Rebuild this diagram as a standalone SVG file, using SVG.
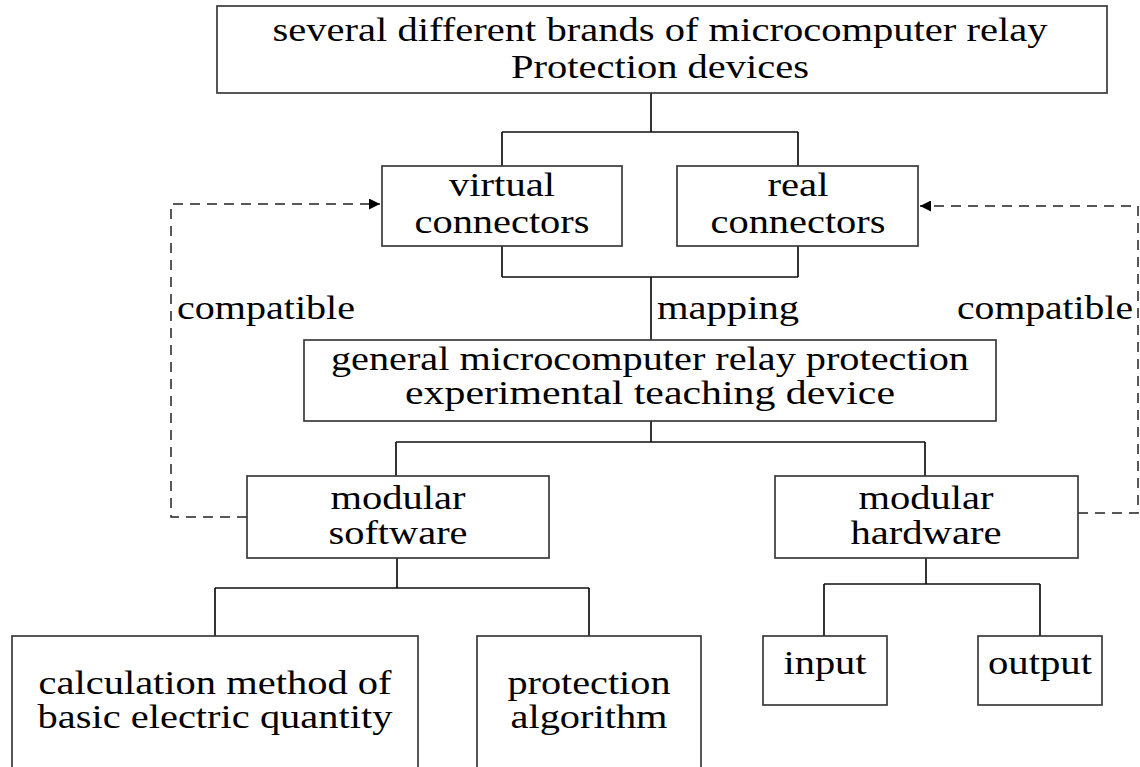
<svg xmlns="http://www.w3.org/2000/svg" width="1140" height="767" viewBox="0 0 1140 767">
<style>
.box{fill:#fff;stroke:#3a3a3a;stroke-width:1.7}
.t{font-family:"Liberation Serif","Times New Roman",Times,serif;font-size:33px;fill:#000;text-anchor:middle}
.c{fill:none;stroke:#111;stroke-width:1.7}
.d{fill:none;stroke:#222;stroke-width:1.5;stroke-dasharray:10 7}
</style>
<defs>
<marker id="ah" viewBox="0 0 10 10" refX="10" refY="5" markerWidth="13" markerHeight="11" markerUnits="userSpaceOnUse" orient="auto">
<path d="M0,0 L10,5 L0,10 Z" fill="#000"/>
</marker>
</defs>
<rect width="1140" height="767" fill="#fff"/>
<g id="connectors">
<path class="c" d="M651,93 V132 M502,132 H798 M502,132 V166 M798,132 V166"/>
<path class="c" d="M502,246 V277 M798,246 V277 M502,277 H798 M651,277 V340"/>
<path class="c" d="M651,421 V442 M396,442 H925 M396,442 V476 M925,442 V476"/>
<path class="c" d="M397,558 V588 M215,588 H589 M215,588 V636 M589,588 V636"/>
<path class="c" d="M926,558 V584 M824,584 H1040 M824,584 V636 M1040,584 V636"/>
<path class="d" d="M247,517 H171 V204 H380" marker-end="url(#ah)"/>
<path class="d" d="M1078,513 H1138 V206 H920" marker-end="url(#ah)"/>
<text class="t" x="266" y="319" textLength="178" lengthAdjust="spacingAndGlyphs">compatible</text>
<text class="t" x="728" y="319" textLength="142" lengthAdjust="spacingAndGlyphs">mapping</text>
<text class="t" x="1045" y="319" textLength="176" lengthAdjust="spacingAndGlyphs">compatible</text>
</g>
<g id="top">
<rect class="box" x="217" y="6" width="890" height="87"/>
<text class="t" x="660" y="41" textLength="775" lengthAdjust="spacingAndGlyphs">several different brands of microcomputer relay</text>
<text class="t" x="660" y="78" textLength="298" lengthAdjust="spacingAndGlyphs">Protection devices</text>
</g>
<g id="virtual">
<rect class="box" x="382" y="166" width="240" height="80"/>
<text class="t" x="502" y="196" textLength="106" lengthAdjust="spacingAndGlyphs">virtual</text>
<text class="t" x="502" y="233" textLength="175" lengthAdjust="spacingAndGlyphs">connectors</text>
</g>
<g id="real">
<rect class="box" x="677" y="166" width="241" height="80"/>
<text class="t" x="798" y="196" textLength="61" lengthAdjust="spacingAndGlyphs">real</text>
<text class="t" x="798" y="233" textLength="175" lengthAdjust="spacingAndGlyphs">connectors</text>
</g>
<g id="general">
<rect class="box" x="304" y="340" width="692" height="81"/>
<text class="t" x="650" y="370" textLength="638" lengthAdjust="spacingAndGlyphs">general microcomputer relay protection</text>
<text class="t" x="650" y="404" textLength="490" lengthAdjust="spacingAndGlyphs">experimental teaching device</text>
</g>
<g id="software">
<rect class="box" x="247" y="476" width="302" height="82"/>
<text class="t" x="398" y="509" textLength="135" lengthAdjust="spacingAndGlyphs">modular</text>
<text class="t" x="398" y="544" textLength="139" lengthAdjust="spacingAndGlyphs">software</text>
</g>
<g id="hardware">
<rect class="box" x="775" y="476" width="303" height="82"/>
<text class="t" x="926" y="509" textLength="135" lengthAdjust="spacingAndGlyphs">modular</text>
<text class="t" x="926" y="544" textLength="151" lengthAdjust="spacingAndGlyphs">hardware</text>
</g>
<g id="calc">
<rect class="box" x="12" y="636" width="406" height="150"/>
<text class="t" x="215" y="694" textLength="353" lengthAdjust="spacingAndGlyphs">calculation method of</text>
<text class="t" x="215" y="728" textLength="355" lengthAdjust="spacingAndGlyphs">basic electric quantity</text>
</g>
<g id="algorithm">
<rect class="box" x="477" y="636" width="224" height="150"/>
<text class="t" x="589" y="694" textLength="163" lengthAdjust="spacingAndGlyphs">protection</text>
<text class="t" x="589" y="728" textLength="157" lengthAdjust="spacingAndGlyphs">algorithm</text>
</g>
<g id="input">
<rect class="box" x="763" y="636" width="124" height="69"/>
<text class="t" x="825" y="674" textLength="83" lengthAdjust="spacingAndGlyphs">input</text>
</g>
<g id="output">
<rect class="box" x="978" y="636" width="124" height="69"/>
<text class="t" x="1040" y="674" textLength="104" lengthAdjust="spacingAndGlyphs">output</text>
</g>
</svg>
